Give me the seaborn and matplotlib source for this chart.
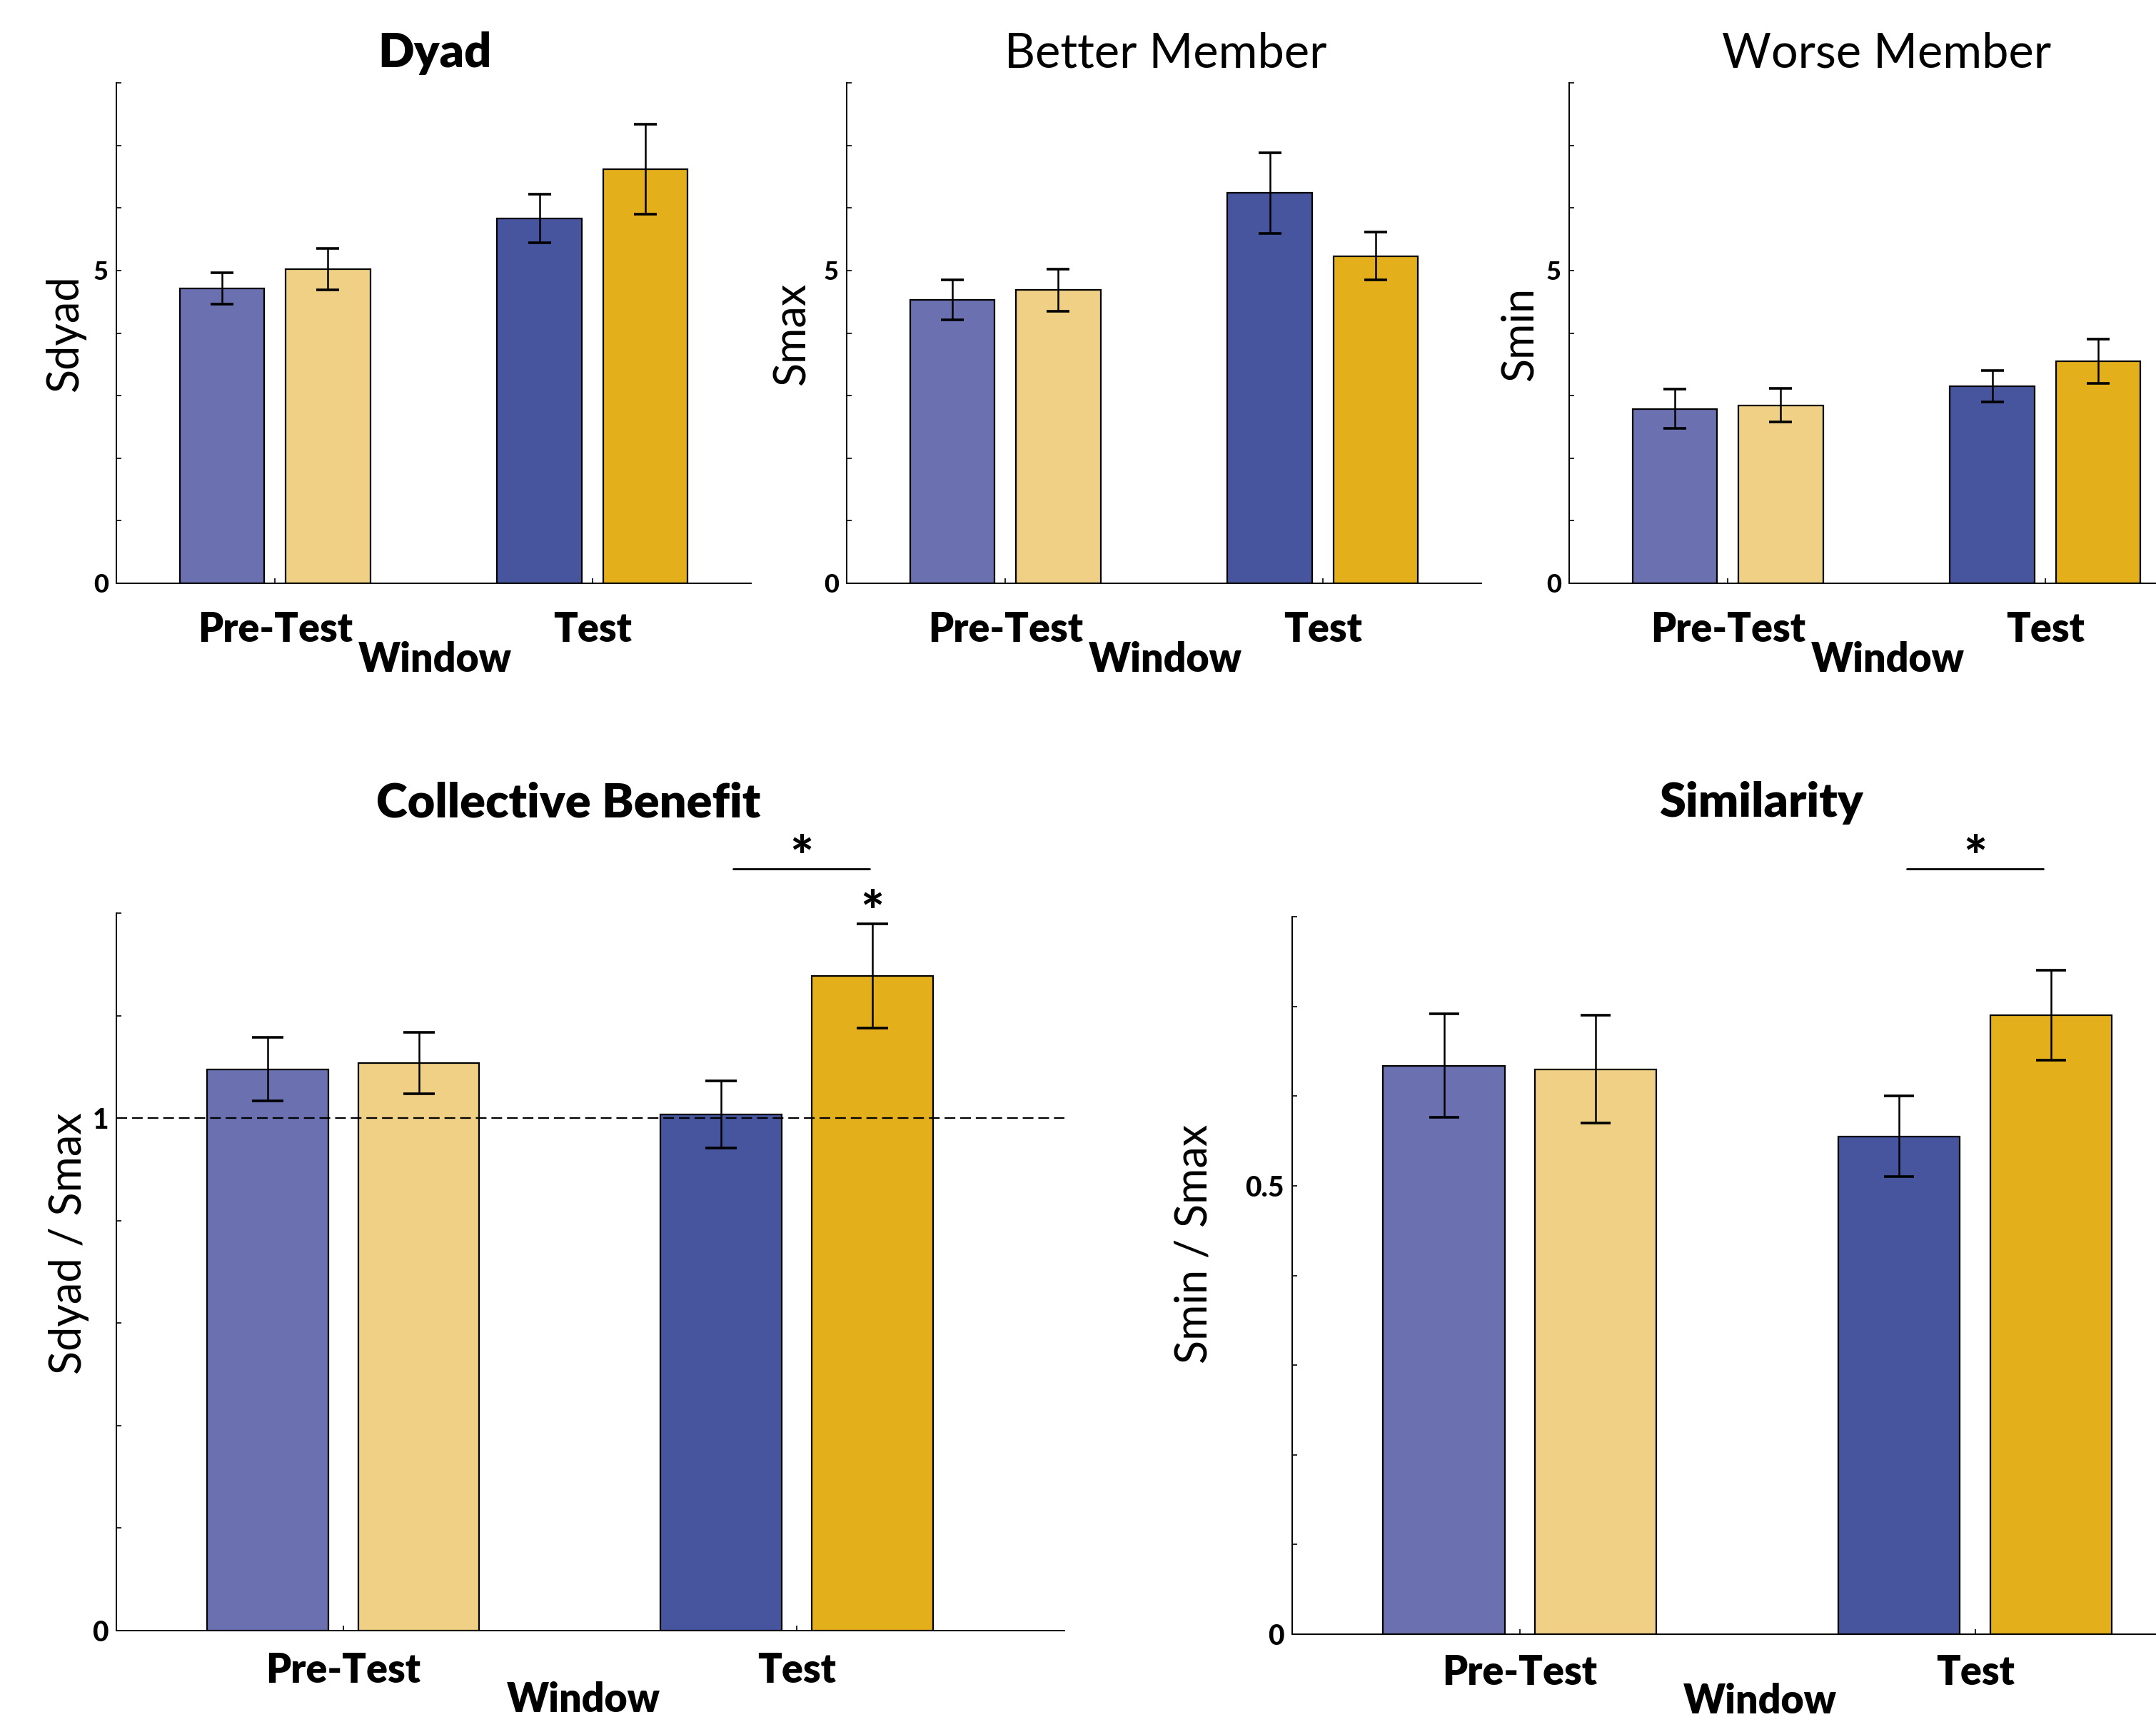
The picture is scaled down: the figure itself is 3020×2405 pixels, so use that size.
import matplotlib
matplotlib.use("Agg")
import matplotlib.pyplot as plt
import pandas as pd
import seaborn as sns

# ---------------------------------------------------------------- data
windows = ["Pre-Test", "Test"]
groups = ["Group 1", "Group 2"]

# means and standard errors, order: Pre-Test, Test
dyad_g1 = [4.71, 5.83]
dyad_g2 = [5.02, 6.62]
dyad_g1_se = [0.25, 0.39]
dyad_g2_se = [0.33, 0.715]

better_g1 = [4.535, 6.24]
better_g2 = [4.685, 5.23]
better_g1_se = [0.32, 0.645]
better_g2_se = [0.34, 0.38]

worse_g1 = [2.79, 3.15]
worse_g2 = [2.845, 3.545]
worse_g1_se = [0.315, 0.255]
worse_g2_se = [0.265, 0.355]

benefit_g1 = [1.095, 1.007]
benefit_g2 = [1.108, 1.2775]
benefit_g1_se = [0.062, 0.066]
benefit_g2_se = [0.060, 0.102]

similarity_g1 = [0.634, 0.555]
similarity_g2 = [0.630, 0.690]
similarity_g1_se = [0.0575, 0.045]
similarity_g2_se = [0.060, 0.050]

# bar fill per window (rows) and group (columns)
bar_colors = [["#6B70B0", "#EFD085"],
              ["#47559E", "#E3B01C"]]

# ---------------------------------------------------------------- style
sns.set_theme(style="ticks")
plt.rcParams["font.family"] = ["Lato", "DejaVu Sans"]
plt.rcParams["axes.linewidth"] = 0.7
for key in ("text.color", "axes.labelcolor", "xtick.color", "ytick.color",
            "axes.edgecolor"):
    plt.rcParams[key] = "black"

HEAVY = "heavy"

W, H = 3020, 2405
fig = plt.figure(figsize=(W / 200, H / 200), dpi=200)


def px_axes(x0, y_top, x1, y_bot):
    return fig.add_axes([x0 / W, 1 - y_bot / H, (x1 - x0) / W, (y_bot - y_top) / H])


def panel(ax, g1, g2, se1, se2, ylim, yticks, ylabels, xlim, title, bold_title,
          title_xy, ylabel, ylabel_xy, xlabel_xy, ytick_size, xpad, capsize):
    df = pd.DataFrame({
        "Window": windows * 2,
        "group": [groups[0]] * 2 + [groups[1]] * 2,
        "value": g1 + g2,
    })
    sns.barplot(data=df, x="Window", y="value", hue="group", order=windows,
                hue_order=groups, palette=[bar_colors[0][0], bar_colors[0][1]],
                width=0.667, gap=0.2, saturation=1, errorbar=None,
                edgecolor="black", linewidth=0.8, legend=False, ax=ax, zorder=2)
    means = [g1, g2]
    ses = [se1, se2]
    bar_conts = list(ax.containers)
    centers = []
    for h, cont in enumerate(bar_conts):
        xs = []
        for i, bar in enumerate(cont):
            bar.set_facecolor(bar_colors[i][h])
            xs.append(bar.get_x() + bar.get_width() / 2)
        centers.append(xs)
        ax.errorbar(xs, means[h], yerr=ses[h], fmt="none", ecolor="black",
                    elinewidth=0.9, capsize=capsize, capthick=1.3, zorder=4)

    ax.set_xlim(*xlim)
    ax.set_ylim(*ylim)
    ax.set_yticks(yticks, ylabels, fontsize=ytick_size, fontweight="black")
    sns.despine(ax=ax)
    ax.tick_params(axis="both", direction="in", length=2.6, width=0.6,
                   color="black")
    ax.tick_params(axis="y", pad=4.0)
    ax.tick_params(axis="x", labelsize=20, pad=xpad)
    for lab in ax.get_xticklabels():
        lab.set_fontweight(HEAVY)

    ax.set_ylabel(ylabel, fontsize=22)
    ax.yaxis.label.set_verticalalignment("baseline")
    ax.yaxis.set_label_coords(*ylabel_xy)
    ax.set_xlabel("Window", fontsize=20, fontweight=HEAVY)
    ax.xaxis.label.set_verticalalignment("baseline")
    ax.xaxis.set_label_coords(*xlabel_xy)

    ax.text(title_xy[0], title_xy[1], title, transform=ax.transAxes,
            ha="center", va="baseline", fontsize=24,
            fontweight=HEAVY if bold_title else "normal")
    ax.grid(False)
    return centers


def star(ax, x, y):
    ax.text(x, y, "*", transform=ax.get_xaxis_transform(), ha="center",
            va="baseline", fontsize=28, fontweight="black", clip_on=False)


def bracket(ax, x0, x1, y_line, y_star):
    tr = ax.get_xaxis_transform()
    ax.plot([x0, x1], [y_line, y_line], color="black", lw=1.0,
            transform=tr, clip_on=False)
    star(ax, (x0 + x1) / 2, y_star)


top_ticks = list(range(0, 9))
top_labels = ["0", "", "", "", "", "5", "", "", ""]

ax1 = px_axes(163, 116, 1052, 817)
panel(ax1, dyad_g1, dyad_g2, dyad_g1_se, dyad_g2_se, (0, 8), top_ticks,
      top_labels, (-0.5, 1.5), "Dyad", True, (0.5017, 1.031),
      "Sdyad", (-0.061, 0.5), (0.5017, -0.177), 13, 14, 5.9)

ax2 = px_axes(1186, 116, 2075, 817)
panel(ax2, better_g1, better_g2, better_g1_se, better_g2_se, (0, 8), top_ticks,
      top_labels, (-0.5, 1.5), "Better Member", False, (0.503, 1.031),
      "Smax", (-0.066, 0.5), (0.5017, -0.177), 13, 14, 5.9)

ax3 = px_axes(2198, 116, 3087, 817)
panel(ax3, worse_g1, worse_g2, worse_g1_se, worse_g2_se, (0, 8), top_ticks,
      top_labels, (-0.5, 1.5), "Worse Member", False, (0.5, 1.031),
      "Smin", (-0.0585, 0.5), (0.5017, -0.177), 13, 14, 5.9)

ax4 = px_axes(163, 1279, 1491, 2284)
cb_centers = panel(ax4, benefit_g1, benefit_g2, benefit_g1_se, benefit_g2_se,
                   (0, 1.4), [0, 0.2, 0.4, 0.6, 0.8, 1.0, 1.2, 1.4],
                   ["0", "", "", "", "", "1", "", ""], (-0.5, 1.59),
                   "Collective Benefit", True, (0.477, 1.134), "Sdyad / Smax",
                   (-0.0366, 0.54), (0.4925, -0.113), 14, 10.8, 7.8)
ax4.axhline(1.0, color="black", lw=0.8, dashes=(6.75, 3.1), zorder=3)
bracket(ax4, 0.86, 1.16, 1.0617, 1.052)
star(ax4, cb_centers[1][1], 0.975)

ax5 = px_axes(1810, 1284, 3143, 2289)
panel(ax5, similarity_g1, similarity_g2, similarity_g1_se, similarity_g2_se,
      (0, 0.8), [0, 0.1, 0.2, 0.3, 0.4, 0.5, 0.6, 0.7, 0.8],
      ["0", "", "", "", "", "0.5", "", "", ""], (-0.5, 1.59), "Similarity", True,
      (0.4929, 1.139), "Smin / Smax", (-0.0896, 0.544), (0.4914, -0.110), 14,
      10.0, 7.5)
bracket(ax5, 0.85, 1.15, 1.0667, 1.057)

fig.savefig("out.png", dpi=200)
